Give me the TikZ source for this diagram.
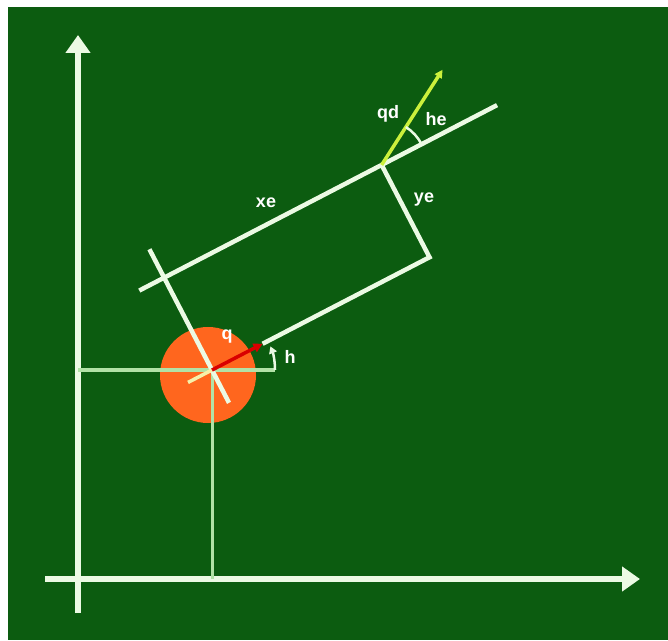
\documentclass[tikz,border=0pt]{standalone}
\usepackage{fontspec}
\setmainfont{Liberation Sans}
\usepackage{xcolor}
\usepackage{tikz}
\usetikzlibrary{arrows.meta,positioning,calc}

\definecolor{board}{RGB}{12,92,16}
\definecolor{chalk}{RGB}{236,250,228}
\definecolor{faint}{RGB}{178,226,166}
\definecolor{robot}{RGB}{255,102,30}
\definecolor{target}{RGB}{204,240,60}
\definecolor{tail}{RGB}{246,240,170}

\begin{document}
\begin{tikzpicture}[x=1pt,y=1pt,
  axis/.style={line width=6.5pt, draw=chalk, -{Triangle[length=18pt,width=24pt]}},
  beam/.style={line width=4.5pt, draw=chalk},
  guide/.style={line width=3pt, draw=faint},
  lbl/.style={text=white, inner sep=1pt, font=\fontsize{18}{21}\selectfont\bfseries}]
  \useasboundingbox (0,0) rectangle (668,640);
  \fill[board] (8,0) rectangle (668,633);
  % world frame
  \coordinate (o) at (78,61);
  \coordinate (ytip) at (78,605);
  \coordinate (ybot) at (78,27);
  \coordinate (xtip) at (640,61);
  \coordinate (xbot) at (45,61);
  \draw[axis] (ybot) -- (ytip);
  \draw[axis] (xbot) -- (xtip);
  % robot
  \coordinate (r) at (212,270);
  \fill[robot] (208,265) circle (48);
  \draw[guide] (r) -- (r |- o);
  \draw[guide] (r -| o) -- ($(r)+(63,0)$);
  % robot frame
  \begin{scope}[shift={(r)}, rotate=27.4]
    \coordinate (back) at (-27,0);
    \coordinate (qtip) at (57,0);
    \coordinate (corner) at (245,0);
    \coordinate (g) at (245,104);
    \coordinate (xs) at (-28,104);
    \coordinate (xf) at (375,104);
    \coordinate (ps) at (0,-37);
    \coordinate (pf) at (0,136);
    \draw[beam] (ps) -- (pf);
    \draw[beam] (xs) -- (xf);
    \draw[beam] (qtip) -- (corner) -- (g);
    \draw[line width=3.5pt, draw=tail] (back) -- (r);
    \draw[line width=3.5pt, draw=red!85!black, -{Triangle[length=9pt,width=9pt]}] (r) -- (qtip);
    \draw[line width=3.5pt, draw=target, -{Triangle[length=8pt,width=8pt]}] (g) -- ++(30:113) coordinate (gd);
    \draw[line width=2.5pt, draw=chalk] ($(g)+(0:45)$) arc[start angle=0, end angle=30, radius=45];
  \end{scope}
  \draw[line width=2.5pt, draw=chalk, -{Triangle[length=7pt,width=8pt]}] ($(r)+(63,0)$) arc[start angle=0, end angle=22, radius=63];
  % labels
  \node[lbl] (q) at (227,303) {q};
  \node[lbl] (h) at (290,283) {h};
  \node[lbl] (xe) at (266,437) {xe};
  \node[lbl] (ye) at (424,440) {ye};
  \node[lbl] (qd) at (388,526) {qd};
  \node[lbl] (he) at (436,521) {he};
\end{tikzpicture}
\end{document}
